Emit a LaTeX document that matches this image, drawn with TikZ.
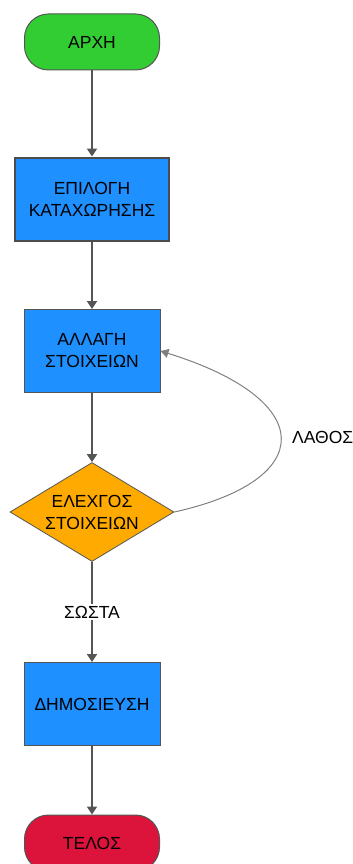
\documentclass[tikz,border=0pt]{standalone}
\usepackage{fontspec}
\setmainfont{Liberation Sans}
\usepackage{xcolor}
\usetikzlibrary{shapes.geometric,arrows.meta,positioning}

\definecolor{startgreen}{HTML}{32CD32}
\definecolor{stepblue}{HTML}{1E90FF}
\definecolor{checkorange}{HTML}{FFAA00}
\definecolor{endred}{HTML}{DC143C}
\definecolor{edgegray}{HTML}{555555}

\tikzset{
    terminal/.style={rectangle, rounded corners=24pt, draw=edgegray, line width=1pt,
        minimum width=135pt, minimum height=56pt, font=\fontsize{17.5}{22}\selectfont},
    stepbox/.style={rectangle, fill=stepblue, draw=edgegray, line width=1pt,
        minimum width=136pt, minimum height=83pt, align=center, font=\fontsize{17.5}{22}\selectfont},
    checkbox/.style={diamond, aspect=1.66, fill=checkorange, draw=edgegray, line width=0.8pt,
        inner sep=0pt, minimum width=164pt, minimum height=99pt, align=center,
        font=\fontsize{17.5}{22}\selectfont},
    flow/.style={draw=edgegray, line width=2pt, -{Triangle[width=10pt,length=8pt]}},
    backflow/.style={draw=gray, line width=1pt, -{Triangle[width=9pt,length=8pt]}},
    edgelabel/.style={fill=white, inner sep=2pt, font=\fontsize{17.5}{22}\selectfont}
}

\begin{document}
\begin{tikzpicture}[x=1pt, y=1pt]
    \useasboundingbox (0,0) rectangle (353,-864);

    % nodes
    \node[terminal, fill=startgreen] (start) at (92,-42) {ΑΡΧΗ};
    \node[stepbox, minimum width=154pt, line width=2pt, draw=black!70] (select) at (92,-199) {ΕΠΙΛΟΓΗ\\ΚΑΤΑΧΩΡΗΣΗΣ};
    \node[stepbox] (change) at (92,-351) {ΑΛΛΑΓΗ\\ΣΤΟΙΧΕΙΩΝ};
    \node[checkbox] (check) at (92,-512) {ΕΛΕΧΓΟΣ\\ΣΤΟΙΧΕΙΩΝ};
    \node[stepbox] (publish) at (92,-704) {ΔΗΜΟΣΙΕΥΣΗ};
    \node[terminal, fill=endred] (stop) at (92,-843) {ΤΕΛΟΣ};

    % connectors
    \draw[flow] (start) -- (select);
    \draw[flow] (select) -- (change);
    \draw[flow] (change) -- (check);
    \draw[flow] (check) -- node[edgelabel] {ΣΩΣΤΑ} (publish);
    \draw[flow] (publish) -- (stop);
    \draw[backflow] (check.east) .. controls (318,-480) and (318,-400) .. (change.east)
        node[pos=0.5, right=8pt, font=\fontsize{17.5}{22}\selectfont] {ΛΑΘΟΣ};
\end{tikzpicture}
\end{document}
